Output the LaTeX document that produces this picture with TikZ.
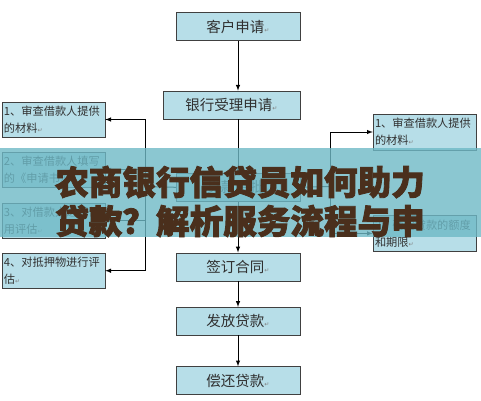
\documentclass[tikz,border=0pt]{standalone}
\usepackage{fontspec}
\newfontfamily\cjk{Noto Sans CJK SC}
\newfontfamily\bandfont{Noto Sans CJK SC}[BoldFeatures={FakeBold=2.5}]
\newfontfamily\symfont{DejaVu Sans}
\usetikzlibrary{positioning}

\definecolor{boxfill}{HTML}{B7DEE8}
\definecolor{boxline}{HTML}{404040}
\definecolor{textgray}{HTML}{303030}
\definecolor{bandfill}{HTML}{6EB9C6}
\definecolor{bandtext}{HTML}{4A2F1C}
\newcommand{\retmark}{{\symfont\fontsize{6}{6}\selectfont\color{gray}↵}}

\begin{document}
\begin{tikzpicture}[x=1pt, y=-1pt, node distance=15pt and 5pt,
stage/.style={rectangle, draw=boxline, fill=boxfill, minimum width=124pt, minimum height=28pt, inner sep=0pt, text=textgray, font=\cjk\fontsize{14.5}{14.5}\selectfont},
task/.style={rectangle, draw=boxline, fill=boxfill, text width=99pt, minimum height=35pt, inner sep=2pt, align=left, text=textgray, font=\cjk\fontsize{11.2}{17}\selectfont},
link/.style={-latex, line width=1pt, draw=black} ]
\useasboundingbox (0,0) rectangle (481,400);

\node (cust) [stage] at (238,26.5) {客户申请\retmark};
\node (bank) [stage, minimum width=137pt, below=50pt of cust, xshift=-6.5pt] {银行受理申请\retmark};
\node (appr) [stage, below=54pt of bank, xshift=6.5pt] {贷款审批\retmark};
\node (sign) [stage, below=51pt of appr] {签订合同\retmark};
\node (issue) [stage, below=26pt of sign] {发放贷款\retmark};
\node (repay) [stage, below=31pt of issue] {偿还贷款\retmark};

\node (L1) [task] at (53.5,119.5) {1、审查借款人提供\\的材料\retmark};
\node (L2) [task, below = of L1] {2、审查借款人填写\\的《申请书》\retmark};
\node (L3) [task, below = of L2] {3、对借款人进行信\\用评估\retmark};
\node (L4) [task, below = of L3] {4、对抵押物进行评\\估\retmark};

\node (R1) [task, minimum height=36pt] at (424.5,132) {1、审查借款人提供\\的材料\retmark};
\node (R2) [task, minimum height=36pt, below=65pt of R1] {2、确定贷款的额度\\和期限\retmark};

\coordinate (lbus) at (145,186.5);
\coordinate (rbus) at (330,186.5);

\path (cust) edge[link] (cust |- bank.north);
\path (appr |- bank.south) edge[link] (appr);
\path (appr) edge[link] (sign);
\path (sign) edge[link] (issue);
\path (issue) edge[link] (repay);

\draw[line width=1pt] (appr.west) -- (lbus);
\foreach \t in {L1,L2,L3,L4}
  \draw[link] (lbus) |- (\t.east);
\draw[line width=1pt] (appr.east) -- (rbus);
\foreach \t in {R1,R2}
  \draw[link] (rbus) |- (\t.west);

\fill[bandfill, fill opacity=0.8] (0,148) rectangle (481,237);
\node (band) [align=center, text=bandtext, font=\bandfont\bfseries\fontsize{33.6}{39}\selectfont] at (240,201.5) {农商银行信贷员如何助力\\贷款？解析服务流程与申};
\end{tikzpicture}
\end{document}
